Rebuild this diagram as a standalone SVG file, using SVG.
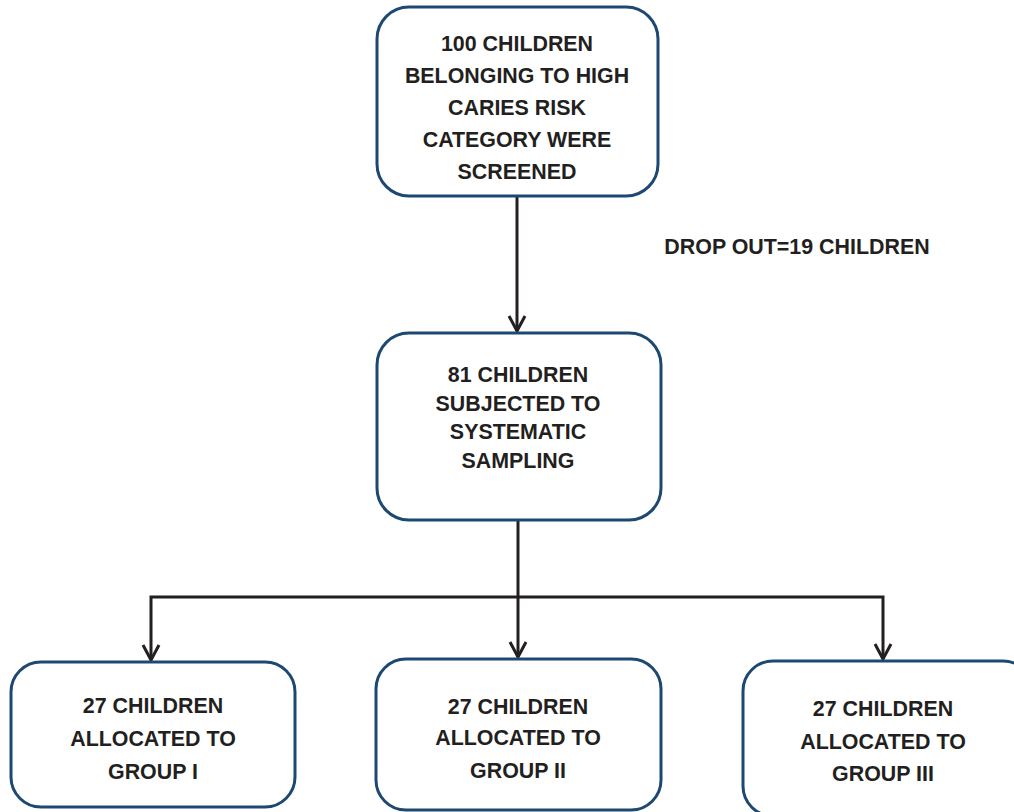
<svg xmlns="http://www.w3.org/2000/svg" width="1014" height="812" viewBox="0 0 1014 812">
<style>
.box{fill:#fff;stroke:#1d4871;stroke-width:3}
.t{font-family:"Liberation Sans",Arial,sans-serif;font-weight:bold;font-size:21.4px;fill:#231f20;text-anchor:middle}
.c{fill:none;stroke:#231f20;stroke-width:3}
</style>
<rect width="1014" height="812" fill="#fff"/>
<g id="connectors">
<path class="c" d="M517 196 V331"/>
<path class="c" d="M509 316 L517 331 L525 316"/>
<path class="c" d="M518 520 V597"/>
<path class="c" d="M151 660 V597 H883 V659"/>
<path class="c" d="M518 597 V657"/>
<path class="c" d="M143 645 L151 660 L159 645"/>
<path class="c" d="M510 642 L518 657 L526 642"/>
<path class="c" d="M875 644 L883 659 L891 644"/>
</g>
<g id="n1">
<rect class="box" x="377" y="7" width="281" height="189" rx="32"/>
<text class="t" x="517" y="51">100 CHILDREN</text>
<text class="t" x="517" y="83">BELONGING TO HIGH</text>
<text class="t" x="517" y="115">CARIES RISK</text>
<text class="t" x="517" y="147">CATEGORY WERE</text>
<text class="t" x="517" y="179">SCREENED</text>
</g>
<g id="drop">
<text class="t" x="797" y="254">DROP OUT=19 CHILDREN</text>
</g>
<g id="n2">
<rect class="box" x="377" y="333" width="284" height="187" rx="32"/>
<text class="t" x="518" y="382">81 CHILDREN</text>
<text class="t" x="518" y="411">SUBJECTED TO</text>
<text class="t" x="518" y="439">SYSTEMATIC</text>
<text class="t" x="518" y="468">SAMPLING</text>
</g>
<g id="n3">
<rect class="box" x="11" y="662" width="284" height="145" rx="30"/>
<text class="t" x="153" y="713">27 CHILDREN</text>
<text class="t" x="153" y="746">ALLOCATED TO</text>
<text class="t" x="153" y="779">GROUP I</text>
</g>
<g id="n4">
<rect class="box" x="376" y="659" width="285" height="151" rx="30"/>
<text class="t" x="518" y="714">27 CHILDREN</text>
<text class="t" x="518" y="745">ALLOCATED TO</text>
<text class="t" x="518" y="778">GROUP II</text>
</g>
<g id="n5">
<rect class="box" x="743" y="661" width="290" height="155" rx="30"/>
<text class="t" x="883" y="716">27 CHILDREN</text>
<text class="t" x="883" y="749">ALLOCATED TO</text>
<text class="t" x="883" y="781">GROUP III</text>
</g>
</svg>
